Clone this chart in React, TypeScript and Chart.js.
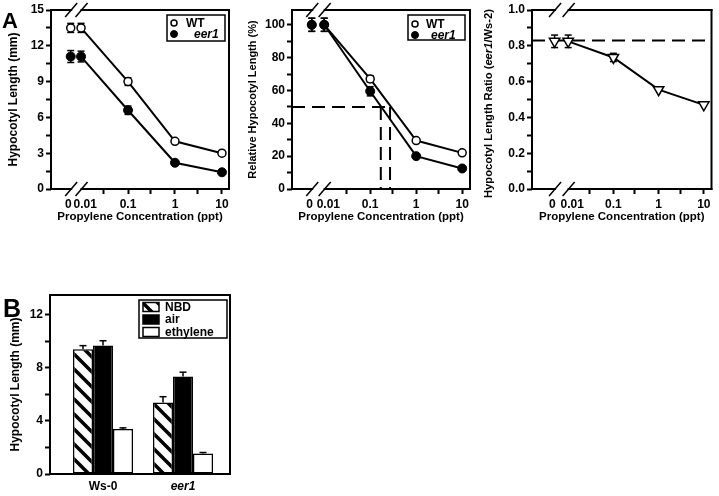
import React, { useEffect, useRef } from 'react';
import { Chart, registerables } from 'chart.js';

Chart.register(...registerables);

const FONT = "'Liberation Sans', Arial, Helvetica, sans-serif";
Chart.defaults.font.family = FONT;
Chart.defaults.color = '#000';

// ---------------- Panel A data ----------------
const concentrations = [0, 0.01, 0.1, 1, 10]; // ppt
const concentrationTickLabels = ['0', '0.01', '0.1', '1', '10'];
const minorConcentrationTicks = [0.03, 0.3, 3];
const concentrationTitle = 'Propylene Concentration (ppt)';

const wtLength = [13.5, 13.5, 9.0, 4.0, 3.0];
const wtLengthErr = [0.38, 0.38, 0.32, 0, 0];
const eer1Length = [11.1, 11.1, 6.6, 2.2, 1.4];
const eer1LengthErr = [0.5, 0.45, 0.35, 0, 0];

const wtRelative = [100, 100, 67, 29.5, 22];
const wtRelativeErr = [4, 4, 2, 0, 0];
const eer1Relative = [100, 100, 59.5, 20, 12.5];
const eer1RelativeErr = [4, 4, 2.8, 0, 0];
const halfLengthLevel = 50;
const halfLengthConcentrations = [0.17, 0.27];

const lengthRatio = [0.825, 0.825, 0.735, 0.555, 0.47];
const lengthRatioErr = [0.035, 0.035, 0.023, 0, 0];
const ratioReference = 0.83;

// ---------------- Panel B data ----------------
const genotypes = ['Ws-0', 'eer1'];
const genotypeItalic = [false, true];
const treatments = ['NBD', 'air', 'ethylene'];
const nbdLength = [9.4, 5.4];
const nbdErr = [0.28, 0.43];
const airLength = [9.7, 7.35];
const airErr = [0.35, 0.33];
const ethyleneLength = [3.4, 1.55];
const ethyleneErr = [0.08, 0.07];

// ---------------- helpers ----------------
const TRANSPARENT = 'rgba(0,0,0,0)';

function makeHatch(): CanvasPattern | string {
  const s = 15;
  const c = document.createElement('canvas');
  c.width = s;
  c.height = s;
  const g = c.getContext('2d');
  if (!g) return '#888';
  g.fillStyle = '#fff';
  g.fillRect(0, 0, s, s);
  g.strokeStyle = '#000';
  g.lineWidth = 3.5;
  for (const o of [-s, 0, s]) {
    g.beginPath();
    g.moveTo(o - 2, -2);
    g.lineTo(o + s + 2, s + 2);
    g.stroke();
  }
  return g.createPattern(c, 'repeat') || '#888';
}

const line = (ctx: CanvasRenderingContext2D, x1: number, y1: number, x2: number, y2: number) => {
  ctx.beginPath();
  ctx.moveTo(x1, y1);
  ctx.lineTo(x2, y2);
  ctx.stroke();
};

const framePlugin = (breakValues?: number[]) => ({
  id: 'frame',
  afterDraw(chart: any) {
    const { ctx, chartArea: a, scales } = chart;
    ctx.save();
    ctx.strokeStyle = '#000';
    ctx.lineWidth = 2;
    ctx.lineCap = 'square';
    line(ctx, a.left, a.top, a.left, a.bottom);
    line(ctx, a.right, a.top, a.right, a.bottom);
    if (breakValues) {
      const [p0, p1] = breakValues.map((v) => scales.x.getPixelForValue(v));
      for (const y of [a.top, a.bottom]) {
        line(ctx, a.left, y, p0, y);
        line(ctx, p1, y, a.right, y);
      }
      ctx.lineWidth = 1.5;
      ctx.lineCap = 'butt';
      for (const y of [a.top, a.bottom]) for (const p of [p0, p1]) line(ctx, p - 6, y + 7, p + 6, y - 7);
    } else {
      line(ctx, a.left, a.top, a.right, a.top);
      line(ctx, a.left, a.bottom, a.right, a.bottom);
    }
    ctx.restore();
  },
});

const pointErrorBars = {
  id: 'pointErrorBars',
  beforeDatasetsDraw(chart: any) {
    const { ctx } = chart;
    const ys = chart.scales.y;
    chart.data.datasets.forEach((ds: any, di: number) => {
      if (!ds.errors) return;
      const meta = chart.getDatasetMeta(di);
      meta.data.forEach((pt: any, i: number) => {
        const e = ds.errors[i];
        if (!e) return;
        const v = ds.data[i].y;
        const yt = ys.getPixelForValue(v + e);
        const yb = ys.getPixelForValue(v - e);
        ctx.save();
        ctx.strokeStyle = '#000';
        ctx.lineWidth = 1.5;
        line(ctx, pt.x, yt, pt.x, yb);
        line(ctx, pt.x - 3.5, yt, pt.x + 3.5, yt);
        line(ctx, pt.x - 3.5, yb, pt.x + 3.5, yb);
        ctx.restore();
      });
    });
  },
};

const barErrorBars = {
  id: 'barErrorBars',
  afterDatasetsDraw(chart: any) {
    const { ctx } = chart;
    const ys = chart.scales.y;
    chart.data.datasets.forEach((ds: any, di: number) => {
      if (!ds.errors) return;
      const meta = chart.getDatasetMeta(di);
      meta.data.forEach((bar: any, i: number) => {
        const e = ds.errors[i];
        if (!e) return;
        const v = ds.data[i].y;
        const yt = ys.getPixelForValue(v + e);
        const yb = ys.getPixelForValue(v);
        ctx.save();
        ctx.strokeStyle = '#000';
        ctx.lineWidth = 1.5;
        line(ctx, bar.x, yt, bar.x, yb);
        line(ctx, bar.x - 3.5, yt, bar.x + 3.5, yt);
        ctx.restore();
      });
    });
  },
};

type Box = { x: number; y: number; w: number; h: number; rowY: number[]; symbolX: number; textX: number[] };

const symbolLegend = (box: Box) => ({
  id: 'symbolLegend',
  afterDraw(chart: any) {
    const { ctx } = chart;
    ctx.save();
    ctx.strokeStyle = '#000';
    ctx.lineWidth = 1.5;
    ctx.strokeRect(box.x, box.y, box.w, box.h);
    const items = chart.data.datasets.filter((d: any) => d.inLegend);
    items.forEach((ds: any, i: number) => {
      const cy = box.rowY[i];
      ctx.beginPath();
      ctx.arc(box.symbolX, cy, ds.pointRadius - 1, 0, Math.PI * 2);
      ctx.fillStyle = ds.pointBackgroundColor;
      ctx.fill();
      ctx.lineWidth = ds.pointBorderWidth;
      ctx.strokeStyle = '#000';
      ctx.stroke();
      ctx.font = `${ds.italicLabel ? 'italic ' : ''}bold 12px ${FONT}`;
      ctx.fillStyle = '#000';
      ctx.textBaseline = 'middle';
      ctx.textAlign = 'left';
      ctx.fillText(ds.label, box.textX[i], cy + 0.5);
    });
    ctx.restore();
  },
});

const swatchLegend = (box: Box) => ({
  id: 'swatchLegend',
  afterDraw(chart: any) {
    const { ctx } = chart;
    ctx.save();
    ctx.strokeStyle = '#000';
    ctx.lineWidth = 1.5;
    ctx.strokeRect(box.x, box.y, box.w, box.h);
    chart.data.datasets.forEach((ds: any, i: number) => {
      const cy = box.rowY[i];
      ctx.fillStyle = ds.backgroundColor;
      ctx.fillRect(box.symbolX, cy - 4.5, 16, 9);
      ctx.lineWidth = 1.5;
      ctx.strokeRect(box.symbolX, cy - 4.5, 16, 9);
      ctx.font = `bold 12px ${FONT}`;
      ctx.fillStyle = '#000';
      ctx.textBaseline = 'middle';
      ctx.textAlign = 'left';
      ctx.fillText(ds.label, box.textX[i], cy + 0.5);
    });
    ctx.restore();
  },
});

const panelLetter = (letter: string, x: number, y: number, size: number) => ({
  id: 'panelLetter',
  afterDraw(chart: any) {
    const { ctx } = chart;
    ctx.save();
    ctx.font = `bold ${size}px ${FONT}`;
    ctx.fillStyle = '#000';
    ctx.textBaseline = 'alphabetic';
    ctx.textAlign = 'left';
    ctx.fillText(letter, x, y);
    ctx.restore();
  },
});

const mixedYTitle = (parts: { text: string; italic: boolean }[], x: number, size: number, shift: number) => ({
  id: 'mixedYTitle',
  afterDraw(chart: any) {
    const { ctx, chartArea: a } = chart;
    ctx.save();
    const fontOf = (it: boolean) => `${it ? 'italic ' : ''}bold ${size}px ${FONT}`;
    let total = 0;
    const widths = parts.map((p) => {
      ctx.font = fontOf(p.italic);
      const w = ctx.measureText(p.text).width;
      total += w;
      return w;
    });
    ctx.translate(x, (a.top + a.bottom) / 2 + shift);
    ctx.rotate(-Math.PI / 2);
    ctx.textBaseline = 'middle';
    ctx.textAlign = 'left';
    ctx.fillStyle = '#000';
    let cx = -total / 2;
    parts.forEach((p, i) => {
      ctx.font = fontOf(p.italic);
      ctx.fillText(p.text, cx, 0);
      cx += widths[i];
    });
    ctx.restore();
  },
});

type LogPanel = { min: number; max: number; zero: number; xH: number };

const xPos = (c: number, zero: number) => (c === 0 ? zero : Math.log10(c));

function logAxis(p: LogPanel) {
  const defs = [
    { v: p.zero - 0.05, label: concentrationTickLabels[0], mark: false },
    { v: -2 + 0.09, label: concentrationTickLabels[1], mark: false },
    ...concentrations.slice(2).map((c, i) => ({ v: Math.log10(c), label: concentrationTickLabels[i + 2], mark: true })),
    ...minorConcentrationTicks.map((c) => ({ v: Math.log10(c), label: '', mark: true })),
  ].sort((a, b) => a.v - b.v);
  return {
    type: 'linear',
    min: p.min,
    max: p.max,
    bounds: 'data',
    afterBuildTicks: (s: any) => {
      s.ticks = defs.map((t) => ({ value: t.v }));
    },
    afterFit: (s: any) => {
      s.height = p.xH;
    },
    ticks: {
      autoSkip: false,
      maxRotation: 0,
      padding: 3,
      color: '#000',
      font: { size: 12, weight: 'bold' },
      callback: (_v: any, i: number) => defs[i].label,
    },
    grid: {
      drawOnChartArea: false,
      drawTicks: true,
      tickLength: 5,
      tickWidth: 2,
      tickColor: (c: any) => (defs[c.index] && defs[c.index].mark ? '#000' : TRANSPARENT),
    },
    border: { display: false },
    title: {
      display: true,
      text: concentrationTitle,
      color: '#000',
      font: { size: 11.5, weight: 'bold' },
      padding: { top: 0, bottom: 16 },
    },
  };
}

function valueAxis(o: {
  min: number;
  max: number;
  step: number;
  labelEvery: number;
  decimals: number;
  title?: string;
  titleSize?: number;
  yW: number;
  titlePad: number;
}) {
  const isMult = (v: number, m: number) => Math.abs(v / m - Math.round(v / m)) < 1e-6;
  return {
    type: 'linear',
    min: o.min,
    max: o.max,
    bounds: 'data',
    afterFit: (s: any) => {
      s.width = o.yW;
    },
    afterBuildTicks: (s: any) => {
      s.ticks = s.ticks.filter((t: any) => isMult(t.value, o.step));
    },
    ticks: {
      stepSize: o.step,
      autoSkip: false,
      padding: 2,
      color: '#000',
      font: { size: 12, weight: 'bold' },
      callback: (v: number) => (isMult(v, o.labelEvery) ? v.toFixed(o.decimals) : ''),
    },
    grid: { drawOnChartArea: false, drawTicks: true, tickLength: 5, tickWidth: 2, tickColor: '#000' },
    border: { display: false },
    title: {
      display: !!o.title,
      text: o.title || '',
      color: '#000',
      font: { size: o.titleSize || 12, weight: 'bold' },
      padding: { top: o.titlePad, bottom: 0 },
    },
  };
}

const baseOptions = (padTop: number, padRight: number) => ({
  responsive: false,
  animation: false,
  devicePixelRatio: 1,
  events: [],
  layout: { padding: { top: padTop, right: padRight, left: 0, bottom: 0 } },
  plugins: { legend: { display: false }, tooltip: { enabled: false } },
});

const openCircle = {
  pointStyle: 'circle',
  pointRadius: 4,
  pointBorderWidth: 1.5,
  pointBackgroundColor: '#fff',
  pointBorderColor: '#000',
};
const filledCircle = {
  pointStyle: 'circle',
  pointRadius: 4.5,
  pointBorderWidth: 1,
  pointBackgroundColor: '#000',
  pointBorderColor: '#000',
};
const connectLine = {
  showLine: true,
  borderColor: '#000',
  borderWidth: 2,
  segment: { borderColor: (c: any) => (c.p0DataIndex === 0 ? TRANSPARENT : '#000') },
};
const dashedLine = {
  showLine: true,
  borderColor: '#000',
  borderWidth: 2,
  borderDash: [13, 7],
  pointRadius: 0,
  order: 2,
};

// ---------------- chart builders ----------------
const A1: LogPanel = { min: -2.64, max: 1.15, zero: -2.22, xH: 51 };
const A2: LogPanel = { min: -2.7, max: 1.17, zero: -2.27, xH: 51 };
const A3: LogPanel = { min: -2.8, max: 1.17, zero: -2.3, xH: 51 };

function buildLength(canvas: HTMLCanvasElement) {
  const z = A1.zero;
  return new Chart(canvas, {
    type: 'scatter',
    data: {
      datasets: [
        {
          label: 'WT',
          data: concentrations.map((c, i) => ({ x: xPos(c, z), y: wtLength[i] })),
          errors: wtLengthErr,
          inLegend: true,
          order: 1,
          ...connectLine,
          ...openCircle,
        },
        {
          label: 'eer1',
          data: concentrations.map((c, i) => ({ x: xPos(c, z), y: eer1Length[i] })),
          errors: eer1LengthErr,
          inLegend: true,
          italicLabel: true,
          order: 0,
          ...connectLine,
          ...filledCircle,
        },
      ] as any,
    },
    options: {
      ...baseOptions(10, 11),
      scales: {
        x: logAxis(A1),
        y: valueAxis({ min: 0, max: 15, step: 1.5, labelEvery: 3, decimals: 0, title: 'Hypocotyl Length (mm)', yW: 51, titlePad: 6.8 }),
      },
    } as any,
    plugins: [
      pointErrorBars,
      framePlugin([z + 0.01, -2 + 0.01]),
      symbolLegend({ x: 167, y: 15, w: 58, h: 26, rowY: [23, 34], symbolX: 174, textX: [186, 194] }),
      panelLetter('A', 2, 28, 22),
    ],
  });
}

function buildRelative(canvas: HTMLCanvasElement) {
  const z = A2.zero;
  return new Chart(canvas, {
    type: 'scatter',
    data: {
      datasets: [
        {
          label: 'WT',
          data: concentrations.map((c, i) => ({ x: xPos(c, z), y: wtRelative[i] })),
          errors: wtRelativeErr,
          inLegend: true,
          order: 1,
          ...connectLine,
          ...openCircle,
        },
        {
          label: 'eer1',
          data: concentrations.map((c, i) => ({ x: xPos(c, z), y: eer1Relative[i] })),
          errors: eer1RelativeErr,
          inLegend: true,
          italicLabel: true,
          order: 0,
          ...connectLine,
          ...filledCircle,
        },
        {
          label: 'half',
          data: [
            { x: A2.min, y: halfLengthLevel },
            { x: Math.log10(halfLengthConcentrations[1]), y: halfLengthLevel },
          ],
          ...dashedLine,
        },
        ...halfLengthConcentrations.map((c) => ({
          label: 'ec50',
          data: [
            { x: Math.log10(c), y: halfLengthLevel },
            { x: Math.log10(c), y: 0 },
          ],
          ...dashedLine,
        })),
      ] as any,
    },
    options: {
      ...baseOptions(10, 10),
      scales: {
        x: logAxis(A2),
        y: valueAxis({
          min: 0,
          max: 109,
          step: 10,
          labelEvery: 20,
          decimals: 0,
          title: 'Relative Hypocotyl Length (%)',
          titleSize: 11,
          yW: 52,
          titlePad: 6.4,
        }),
      },
    } as any,
    plugins: [
      pointErrorBars,
      framePlugin([z + 0.01, -2 + 0.01]),
      symbolLegend({ x: 168, y: 15, w: 57, h: 25, rowY: [24, 35], symbolX: 175, textX: [186, 191] }),
    ],
  });
}

function buildRatio(canvas: HTMLCanvasElement) {
  const z = A3.zero;
  return new Chart(canvas, {
    type: 'scatter',
    data: {
      datasets: [
        {
          label: 'eer1/Ws-2',
          data: concentrations.map((c, i) => ({ x: xPos(c, z), y: lengthRatio[i] })),
          errors: lengthRatioErr,
          order: 0,
          ...connectLine,
          pointStyle: 'triangle',
          rotation: 180,
          pointRadius: 6,
          pointBorderWidth: 1.5,
          pointBackgroundColor: '#fff',
          pointBorderColor: '#000',
        },
        {
          label: 'reference',
          data: [
            { x: A3.min, y: ratioReference },
            { x: A3.max, y: ratioReference },
          ],
          ...dashedLine,
        },
      ] as any,
    },
    options: {
      ...baseOptions(10, 4),
      scales: {
        x: logAxis(A3),
        y: valueAxis({ min: 0, max: 1, step: 0.1, labelEvery: 0.2, decimals: 1, yW: 52, titlePad: 0 }),
      },
    } as any,
    plugins: [
      pointErrorBars,
      framePlugin([z + 0.01, -2 + 0.01]),
      mixedYTitle(
        [
          { text: 'Hypocotyl Length Ratio (', italic: false },
          { text: 'eer1', italic: true },
          { text: '/Ws-2)', italic: false },
        ],
        9,
        11.2,
        4
      ),
    ],
  });
}

function buildBars(canvas: HTMLCanvasElement) {
  const hatch = makeHatch();
  const fills = [hatch, '#000', '#fff'];
  const values = [nbdLength, airLength, ethyleneLength];
  const errs = [nbdErr, airErr, ethyleneErr];
  return new Chart(canvas, {
    type: 'bar',
    data: {
      datasets: treatments.map((t, k) => ({
        label: t,
        data: genotypes.map((_g, i) => ({ x: i, y: values[k][i] })),
        errors: errs[k],
        backgroundColor: fills[k],
        borderColor: '#000',
        borderWidth: 1.5,
        borderSkipped: false,
        categoryPercentage: 0.75,
        barPercentage: 1,
      })) as any,
    },
    options: {
      ...baseOptions(45, 10),
      scales: {
        x: {
          type: 'linear',
          min: -0.6625,
          max: 1.5875,
          bounds: 'data',
          offset: false,
          afterBuildTicks: (s: any) => {
            s.ticks = genotypes.map((_g, i) => ({ value: i }));
          },
          afterFit: (s: any) => {
            s.height = 22;
          },
          ticks: {
            autoSkip: false,
            maxRotation: 0,
            padding: 5,
            color: '#000',
            callback: (_v: any, i: number) => genotypes[i],
            font: (c: any) => ({ size: 12, weight: 'bold', style: genotypeItalic[c.index] ? 'italic' : 'normal' }),
          },
          grid: { display: false, drawTicks: false, offset: false },
          border: { display: false },
        },
        y: valueAxis({ min: 0, max: 13.5, step: 2, labelEvery: 4, decimals: 0, title: 'Hypocotyl Length (mm)', yW: 50, titlePad: 8.8 }),
      },
    } as any,
    plugins: [
      barErrorBars,
      framePlugin(),
      swatchLegend({ x: 139, y: 50, w: 88, h: 38, rowY: [57, 69.5, 82], symbolX: 143, textX: [165, 165, 165] }),
      panelLetter('B', 3, 67, 25),
    ],
  });
}

function ChartCanvas(props: {
  build: (c: HTMLCanvasElement) => Chart;
  left: number;
  top: number;
  width: number;
  height: number;
}) {
  const ref = useRef<HTMLCanvasElement>(null);
  useEffect(() => {
    if (!ref.current) return;
    const chart = props.build(ref.current);
    return () => chart.destroy();
  }, []);
  return (
    <canvas
      ref={ref}
      width={props.width}
      height={props.height}
      style={{ position: 'absolute', left: props.left, top: props.top, width: props.width, height: props.height }}
    />
  );
}

export default function App() {
  return (
    <div style={{ position: 'absolute', left: 0, top: 0, width: 719, height: 496, background: '#fff', overflow: 'hidden' }}>
      <ChartCanvas build={buildLength} left={0} top={0} width={240} height={240} />
      <ChartCanvas build={buildRelative} left={240} top={0} width={240} height={240} />
      <ChartCanvas build={buildRatio} left={480} top={0} width={239} height={240} />
      <ChartCanvas build={buildBars} left={0} top={250} width={240} height={246} />
    </div>
  );
}
